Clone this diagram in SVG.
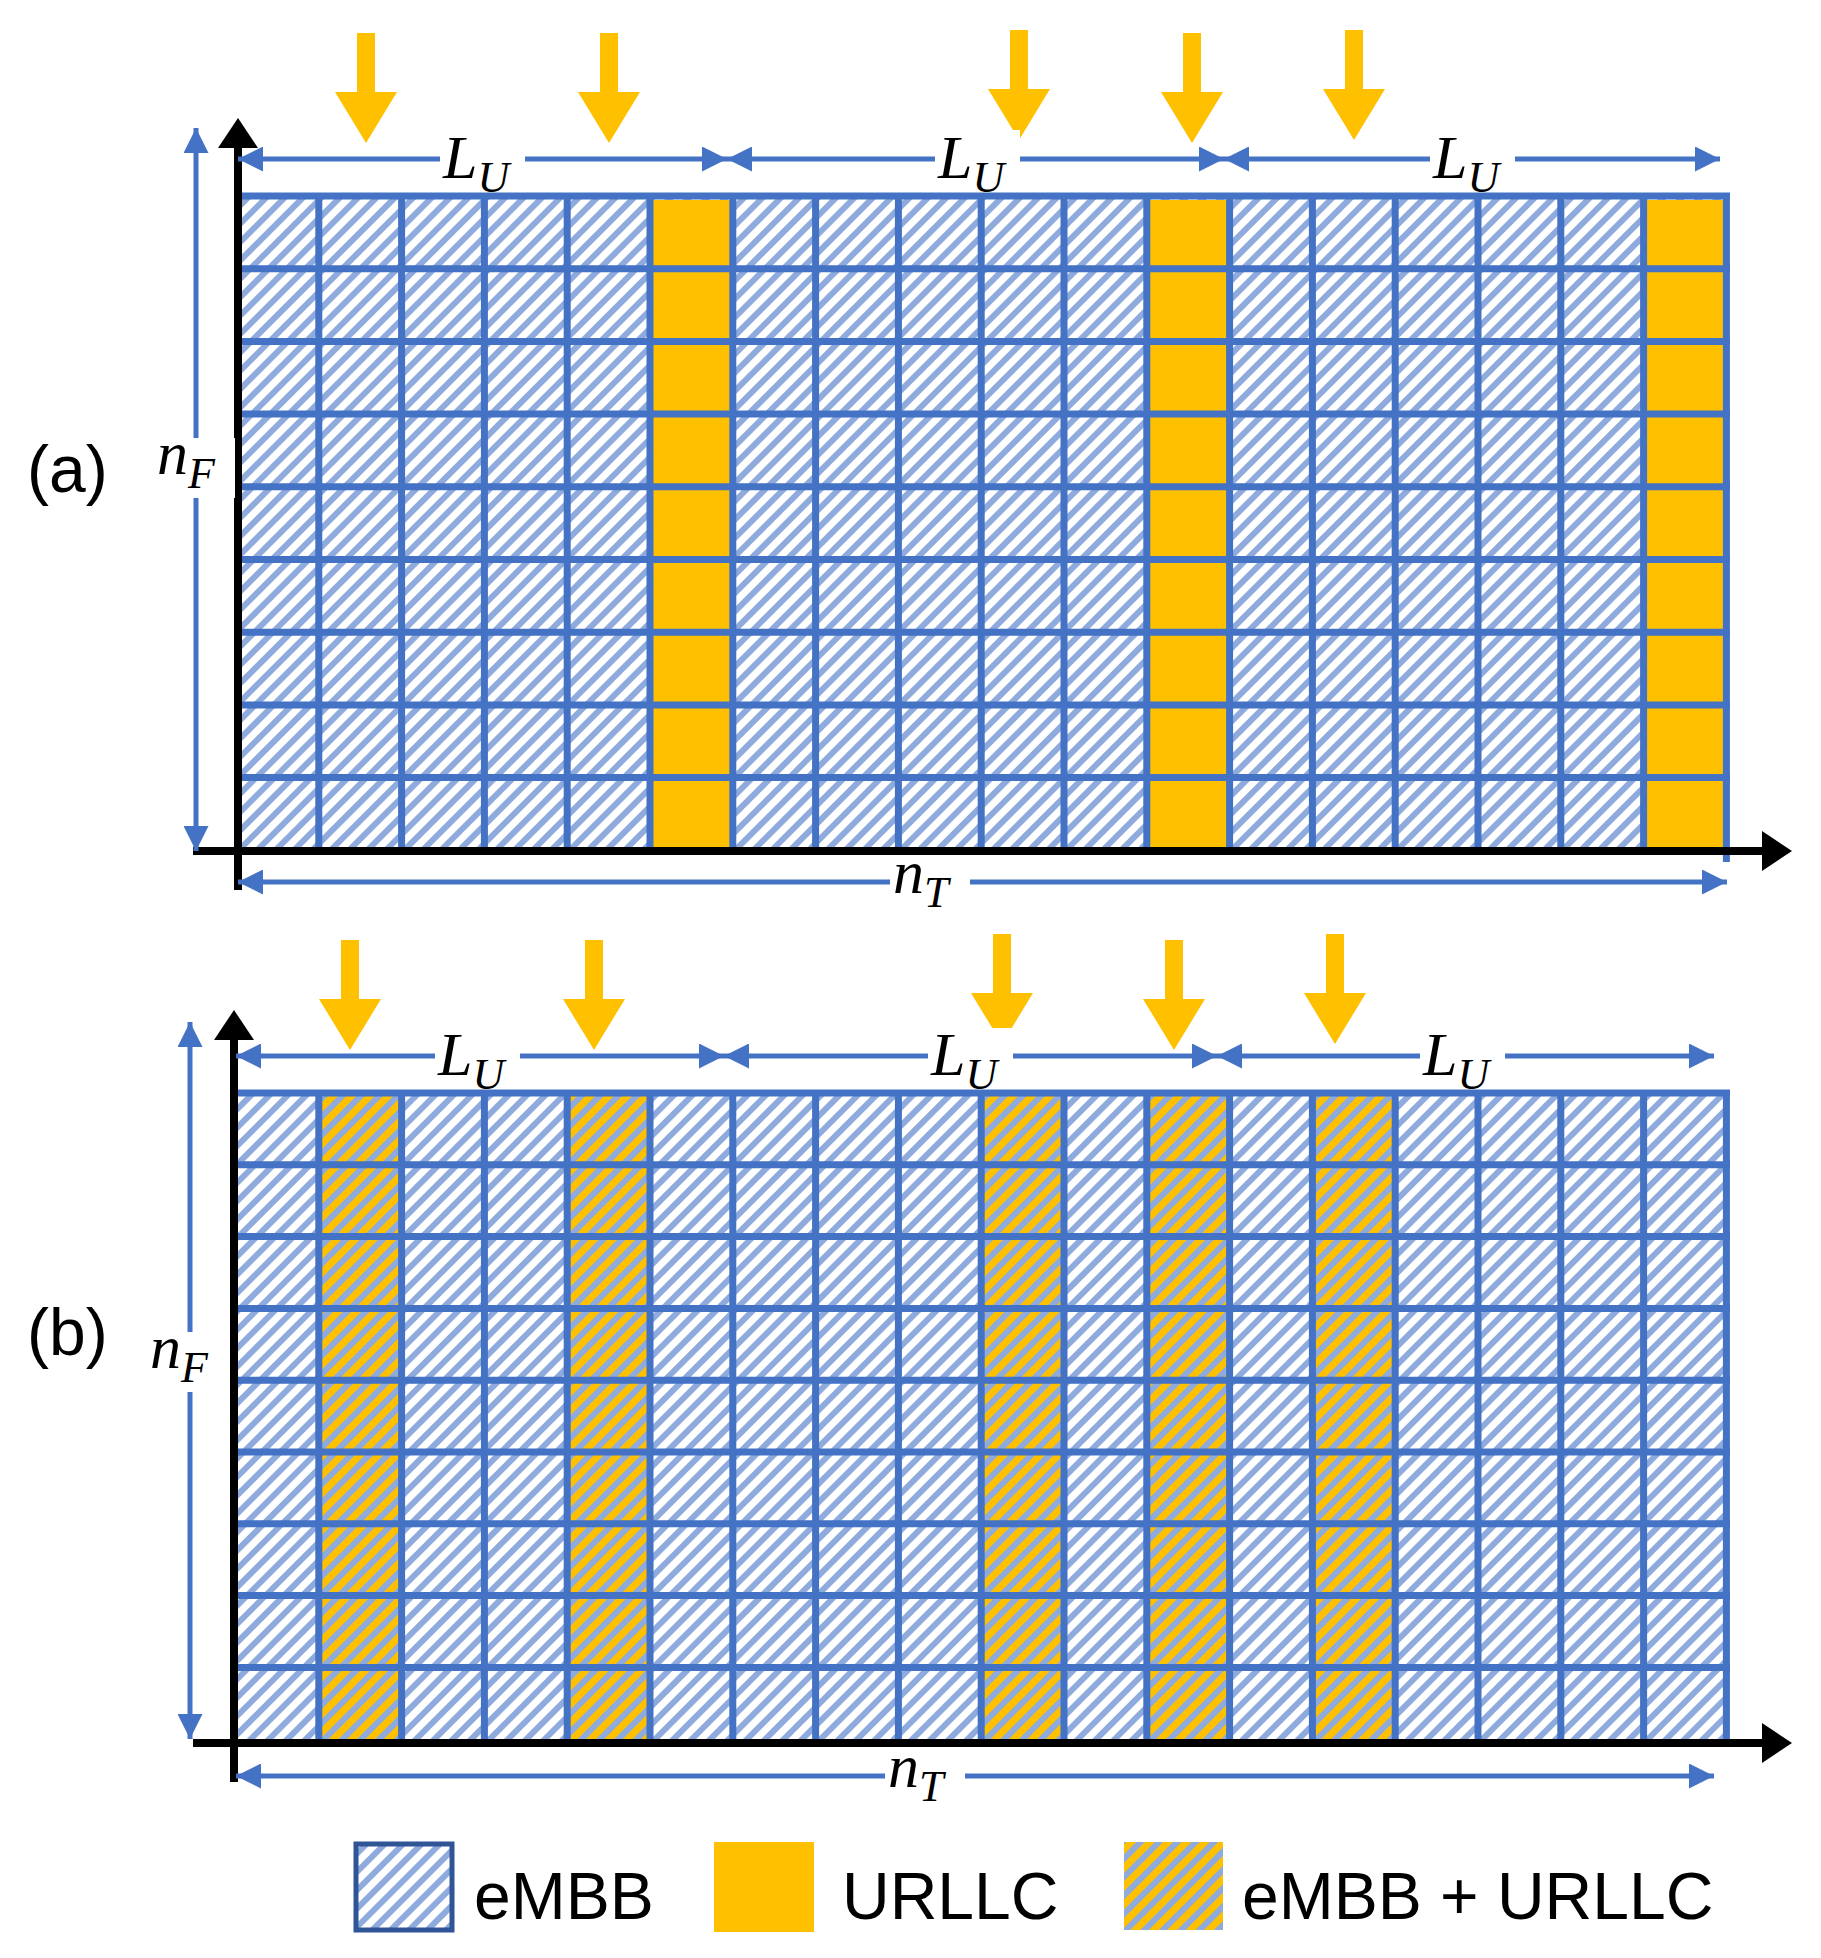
<svg xmlns="http://www.w3.org/2000/svg" width="1821" height="1958" viewBox="0 0 1821 1958">
<style>
.grid{fill:none;stroke:#4472C4;stroke-width:7}
.dim{stroke:#4472C4;stroke-width:5;fill:none;marker-start:url(#bs);marker-end:url(#be)}
.axis{stroke:#000;stroke-width:8;fill:none}
.m{font-family:"Liberation Serif",serif;font-style:italic;font-size:62px;fill:#000}
.s{font-size:44px}
.t{font-family:"Liberation Sans",Arial,sans-serif;font-size:66px;fill:#000}
.y{fill:#FFC000}
.bg{fill:#fff}
</style>
<defs>
<pattern id="h" width="13" height="13" patternUnits="userSpaceOnUse" patternTransform="rotate(45)">
<rect x="0" y="0" width="6" height="13" fill="#8FAADC"/>
</pattern>
<marker id="be" viewBox="0 0 10 10" refX="10" refY="5" markerWidth="5" markerHeight="5" orient="auto" markerUnits="strokeWidth"><path d="M0,0L10,5L0,10z" fill="#4472C4"/></marker>
<marker id="bs" viewBox="0 0 10 10" refX="0" refY="5" markerWidth="5" markerHeight="5" orient="auto" markerUnits="strokeWidth"><path d="M10,0L0,5L10,10z" fill="#4472C4"/></marker>
<path id="ya" d="M-9,0h18v59h22l-31,51l-31,-51h22z" fill="#FFC000"/>
</defs>

<text class="t" x="27" y="492">(a)</text>
<text class="t" x="27" y="1355">(b)</text>

<g id="gridA">
<rect x="236" y="196" width="1490" height="654" fill="url(#h)"/>
<rect class="y" x="653" y="200" width="77" height="650"/>
<rect class="y" x="1150" y="200" width="77" height="650"/>
<rect class="y" x="1647" y="200" width="77" height="650"/>
<path class="grid" d="M236,196H1730M236,268.7H1730M236,341.4H1730M236,414.1H1730M236,486.8H1730M236,559.5H1730M236,632.2H1730M236,704.9H1730M236,777.6H1730M318.8,196V850M401.6,196V850M484.4,196V850M567.2,196V850M650,196V850M732.8,196V850M815.6,196V850M898.4,196V850M981.2,196V850M1064,196V850M1146.8,196V850M1229.6,196V850M1312.4,196V850M1395.2,196V850M1478,196V850M1560.8,196V850M1643.6,196V850M1726.4,196V862"/>
</g>

<g id="gridB">
<rect class="y" x="318.8" y="1093" width="82.8" height="646"/>
<rect class="y" x="567.2" y="1093" width="82.8" height="646"/>
<rect class="y" x="981.2" y="1093" width="82.8" height="646"/>
<rect class="y" x="1146.8" y="1093" width="82.8" height="646"/>
<rect class="y" x="1312.4" y="1093" width="82.8" height="646"/>
<rect x="236" y="1093" width="1490" height="646" fill="url(#h)"/>
<path class="grid" d="M236,1093H1730M236,1164.8H1730M236,1236.6H1730M236,1308.4H1730M236,1380.2H1730M236,1452H1730M236,1523.8H1730M236,1595.6H1730M236,1667.4H1730M318.8,1093V1739M401.6,1093V1739M484.4,1093V1739M567.2,1093V1739M650,1093V1739M732.8,1093V1739M815.6,1093V1739M898.4,1093V1739M981.2,1093V1739M1064,1093V1739M1146.8,1093V1739M1229.6,1093V1739M1312.4,1093V1739M1395.2,1093V1739M1478,1093V1739M1560.8,1093V1739M1643.6,1093V1739M1726.4,1093V1739"/>
</g>

<g id="connectors">
<path class="axis" d="M238,890V145M193,851H1765"/>
<path d="M238,118l-20,30h40z" fill="#000"/>
<path d="M1792,851l-30,-20v40z" fill="#000"/>
<path class="axis" d="M234,1782V1037M193,1743H1765"/>
<path d="M234,1010l-20,30h40z" fill="#000"/>
<path d="M1792,1743l-30,-20v40z" fill="#000"/>

<path class="dim" d="M196,851V128"/>
<path class="dim" d="M238,159H727"/>
<path class="dim" d="M727,159H1224"/>
<path class="dim" d="M1224,159H1720"/>
<path class="dim" d="M238,882H1727"/>

<path class="dim" d="M190,1739V1022"/>
<path class="dim" d="M236,1056H724"/>
<path class="dim" d="M724,1056H1217"/>
<path class="dim" d="M1217,1056H1714"/>
<path class="dim" d="M236,1776H1714"/>

<use href="#ya" x="366" y="33"/>
<use href="#ya" x="609" y="33"/>
<use href="#ya" x="1019" y="30"/>
<use href="#ya" x="1192" y="33"/>
<use href="#ya" x="1354" y="30"/>
<use href="#ya" x="350" y="940"/>
<use href="#ya" x="594" y="940"/>
<use href="#ya" x="1002" y="934"/>
<use href="#ya" x="1174" y="940"/>
<use href="#ya" x="1335" y="934"/>
</g>

<g id="labels">
<rect class="bg" x="440" y="130" width="85" height="60"/>
<text class="m" x="443" y="178">L<tspan class="s" dy="14">U</tspan></text>
<rect class="bg" x="935" y="130" width="85" height="60"/>
<text class="m" x="938" y="178">L<tspan class="s" dy="14">U</tspan></text>
<rect class="bg" x="1430" y="130" width="85" height="60"/>
<text class="m" x="1433" y="178">L<tspan class="s" dy="14">U</tspan></text>
<rect class="bg" x="155" y="438" width="80" height="60"/>
<text class="m" x="157" y="474">n<tspan class="s" dy="14">F</tspan></text>
<rect class="bg" x="890" y="862" width="80" height="50"/>
<text class="m" x="893" y="893">n<tspan class="s" dy="14">T</tspan></text>

<rect class="bg" x="435" y="1028" width="85" height="60"/>
<text class="m" x="438" y="1075">L<tspan class="s" dy="14">U</tspan></text>
<rect class="bg" x="928" y="1028" width="85" height="60"/>
<text class="m" x="931" y="1075">L<tspan class="s" dy="14">U</tspan></text>
<rect class="bg" x="1420" y="1028" width="85" height="60"/>
<text class="m" x="1423" y="1075">L<tspan class="s" dy="14">U</tspan></text>
<rect class="bg" x="148" y="1332" width="80" height="60"/>
<text class="m" x="150" y="1368">n<tspan class="s" dy="14">F</tspan></text>
<rect class="bg" x="885" y="1756" width="80" height="50"/>
<text class="m" x="888" y="1787">n<tspan class="s" dy="14">T</tspan></text>
</g>

<g id="legend">
<rect x="356" y="1844" width="96" height="86" fill="url(#h)" stroke="#2F5597" stroke-width="5"/>
<text class="t" x="474" y="1919">eMBB</text>
<rect class="y" x="714" y="1842" width="100" height="90"/>
<text class="t" x="842" y="1919">URLLC</text>
<rect class="y" x="1124" y="1842" width="99" height="88"/>
<rect x="1124" y="1842" width="99" height="88" fill="url(#h)"/>
<text class="t" x="1242" y="1919">eMBB + URLLC</text>
</g>
</svg>
